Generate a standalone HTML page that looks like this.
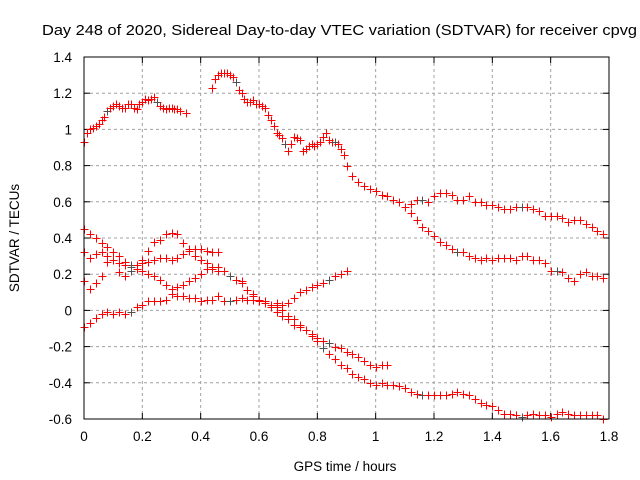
<!DOCTYPE html>
<html><head><meta charset="utf-8">
<style>
body{margin:0;background:#fff;}
svg{display:block;font-family:"Liberation Sans",sans-serif;}
</style></head>
<body>
<svg id="chart" width="640" height="480">
<text x="339.5" y="35" font-size="15" text-anchor="middle" textLength="595" lengthAdjust="spacingAndGlyphs">Day 248 of 2020, Sidereal Day-to-day VTEC variation (SDTVAR) for receiver cpvg</text>
<text x="345" y="471" font-size="13.5" text-anchor="middle">GPS time / hours</text>
<text transform="translate(19,238) rotate(-90)" font-size="13.5" text-anchor="middle">SDTVAR / TECUs</text>
<g id="grid"></g>
<g id="ticks"></g>
<g id="marks"></g>
<rect x="84" y="57" width="525" height="362" fill="none" stroke="#000" stroke-width="1"/>
</svg>
<script>
const xTicks=[0,0.2,0.4,0.6,0.8,1,1.2,1.4,1.6,1.8];
const xTickLabels=["0","0.2","0.4","0.6","0.8","1","1.2","1.4","1.6","1.8"];
const yTicks=[-0.6,-0.4,-0.2,0,0.2,0.4,0.6,0.8,1,1.2,1.4];
const yTickLabels=["-0.6","-0.4","-0.2","0","0.2","0.4","0.6","0.8","1","1.2","1.4"];
const s1x=[0,0.01,0.02,0.03,0.04,0.05,0.06,0.07,0.08,0.09,0.1,0.11,0.12,0.13,0.14,0.15,0.16,0.17,0.18,0.19,0.2,0.21,0.22,0.23,0.24,0.25,0.26,0.27,0.28,0.29,0.3,0.31,0.32,0.33,0.35];
const s1y=[0.93,0.98,1.0,1.01,1.02,1.03,1.05,1.07,1.1,1.12,1.13,1.14,1.13,1.12,1.12,1.14,1.14,1.12,1.11,1.14,1.15,1.17,1.16,1.17,1.18,1.15,1.13,1.12,1.11,1.12,1.12,1.11,1.11,1.10,1.09];
const s2x=[0.44,0.45,0.46,0.47,0.48,0.49,0.5,0.51,0.52,0.53,0.54,0.55,0.56,0.57,0.58,0.59,0.6,0.61,0.62,0.63,0.64,0.65,0.66,0.67,0.68,0.69,0.7,0.71,0.72,0.73,0.74,0.75,0.76,0.77,0.78,0.79,0.8,0.81,0.82,0.83,0.84,0.85,0.86,0.87,0.88,0.89,0.9,0.92,0.94,0.96,0.98,1.0,1.02,1.04,1.06,1.08,1.1,1.12,1.14,1.16,1.18,1.2,1.22,1.24,1.26,1.28,1.3,1.32,1.34,1.36,1.38,1.4,1.42,1.44,1.46,1.48,1.5,1.52,1.54,1.56,1.58,1.6,1.62,1.64,1.66,1.68,1.7,1.72,1.74,1.76,1.78];
const s2y=[1.23,1.28,1.30,1.31,1.31,1.31,1.30,1.29,1.26,1.22,1.20,1.17,1.15,1.15,1.16,1.14,1.14,1.13,1.12,1.08,1.05,1.02,0.98,0.97,0.95,0.92,0.88,0.92,0.96,0.95,0.94,0.88,0.89,0.91,0.92,0.91,0.92,0.93,0.96,0.98,0.94,0.93,0.93,0.92,0.89,0.86,0.80,0.74,0.71,0.69,0.67,0.66,0.64,0.63,0.61,0.60,0.57,0.59,0.61,0.61,0.60,0.63,0.65,0.65,0.64,0.61,0.61,0.63,0.60,0.60,0.58,0.58,0.57,0.56,0.56,0.57,0.57,0.57,0.56,0.55,0.52,0.52,0.52,0.51,0.49,0.50,0.50,0.48,0.46,0.44,0.42];
const s3x=[1.12,1.14,1.16,1.18,1.2,1.22,1.24,1.26,1.28,1.3,1.32,1.34,1.36,1.38,1.4,1.42,1.44,1.46,1.48,1.5,1.52,1.54,1.56,1.58,1.6,1.62,1.64,1.66,1.68,1.7,1.72,1.74,1.76,1.78];
const s3y=[0.54,0.50,0.46,0.44,0.41,0.38,0.36,0.34,0.32,0.32,0.30,0.29,0.28,0.29,0.28,0.29,0.29,0.29,0.28,0.30,0.30,0.28,0.28,0.26,0.22,0.22,0.21,0.18,0.16,0.20,0.21,0.19,0.19,0.18];
const s4x=[0,0.02,0.04,0.06,0.08,0.1,0.12,0.14,0.16,0.18,0.2,0.22,0.24,0.26,0.28,0.3,0.32,0.34,0.36,0.38,0.4,0.42,0.44,0.46,0.48,0.5,0.52,0.54,0.56,0.58,0.6,0.62,0.64,0.66,0.68,0.7,0.72,0.74,0.76,0.78,0.8,0.82,0.84,0.86,0.88,0.9,0.92,0.94,0.96,0.98,1.0,1.02,1.04];
const s4y=[0.45,0.42,0.40,0.37,0.35,0.32,0.30,0.27,0.25,0.23,0.22,0.20,0.19,0.17,0.14,0.12,0.13,0.14,0.16,0.18,0.20,0.23,0.24,0.24,0.22,0.19,0.17,0.16,0.11,0.09,0.06,0.04,0.02,-0.01,-0.03,-0.05,-0.08,-0.09,-0.11,-0.13,-0.15,-0.17,-0.18,-0.20,-0.21,-0.23,-0.24,-0.26,-0.28,-0.30,-0.31,-0.30,-0.30];
const s5x=[0,0.02,0.04,0.06,0.08,0.1,0.12,0.14,0.16,0.18,0.2,0.22,0.24,0.26,0.28,0.3,0.32,0.34,0.36,0.38,0.4,0.42,0.44,0.46,0.48,0.5,0.52,0.54,0.56,0.58,0.6,0.62,0.64,0.66];
const s5y=[0.32,0.29,0.31,0.32,0.30,0.28,0.26,0.25,0.24,0.25,0.26,0.27,0.28,0.29,0.29,0.28,0.29,0.31,0.34,0.34,0.34,0.33,0.32,0.32,0.22,0.19,0.17,0.15,0.11,0.08,0.06,0.05,0.03,0.02];
const s6x=[0,0.02,0.04,0.06,0.08,0.1,0.12,0.14,0.16,0.18,0.2,0.22,0.24,0.26,0.28,0.3,0.32,0.34,0.36,0.38,0.4,0.42,0.44,0.46];
const s6y=[0.16,0.12,0.15,0.19,0.27,0.28,0.21,0.19,0.22,0.25,0.28,0.33,0.38,0.39,0.42,0.43,0.42,0.37,0.33,0.30,0.28,0.26,0.23,0.22];
const s7x=[0,0.02,0.04,0.06,0.08,0.1,0.12,0.14,0.16,0.18,0.2,0.22,0.24,0.26,0.28,0.3,0.32,0.34,0.36,0.38,0.4,0.42,0.44,0.46,0.48,0.5,0.52,0.54,0.56,0.58,0.6,0.62,0.64,0.66,0.68,0.7,0.72,0.74,0.76,0.78,0.8,0.82,0.84,0.86,0.88,0.9];
const s7y=[-0.09,-0.07,-0.04,-0.02,-0.01,-0.02,-0.01,-0.02,-0.01,0.02,0.03,0.05,0.05,0.05,0.06,0.09,0.08,0.08,0.07,0.07,0.05,0.06,0.06,0.08,0.05,0.05,0.06,0.07,0.06,0.06,0.05,0.04,0.03,0.04,0.03,0.04,0.07,0.10,0.11,0.13,0.14,0.15,0.17,0.19,0.20,0.22];
const s8x=[0.66,0.68,0.7,0.72,0.74,0.76,0.78,0.8,0.82,0.84,0.86,0.88,0.9,0.92,0.94,0.96,0.98,1.0,1.02,1.04,1.06,1.08,1.1,1.12,1.14,1.16,1.18,1.2,1.22,1.24,1.26,1.28,1.3,1.32,1.34,1.36,1.38,1.4,1.42,1.44,1.46,1.48,1.5,1.52,1.54,1.56,1.58,1.6,1.62,1.64,1.66,1.68,1.7,1.72,1.74,1.76,1.78];
const s8y=[0.03,0.0,-0.03,-0.05,-0.08,-0.11,-0.14,-0.17,-0.21,-0.24,-0.27,-0.30,-0.32,-0.35,-0.37,-0.38,-0.40,-0.41,-0.40,-0.41,-0.41,-0.42,-0.43,-0.45,-0.46,-0.47,-0.47,-0.47,-0.47,-0.47,-0.46,-0.45,-0.46,-0.47,-0.49,-0.51,-0.52,-0.53,-0.55,-0.57,-0.57,-0.58,-0.59,-0.58,-0.57,-0.58,-0.58,-0.59,-0.57,-0.56,-0.57,-0.58,-0.58,-0.58,-0.58,-0.58,-0.60];
const seriesX=[s1x,s2x,s3x,s4x,s5x,s6x,s7x,s8x];
const seriesY=[s1y,s2y,s3y,s4y,s5y,s6y,s7y,s8y];

const L=84,R=609,T=57,B=419;
const sx=v=>L+(v-0)/(1.8-0)*(R-L);
const sy=v=>B-(v+0.6)/(1.4+0.6)*(B-T);
const NS="http://www.w3.org/2000/svg";
const grid=document.getElementById('grid'),ticks=document.getElementById('ticks'),marks=document.getElementById('marks');
function mk(tag,attrs,parent){const e=document.createElementNS(NS,tag);for(const k in attrs)e.setAttribute(k,attrs[k]);parent.appendChild(e);return e;}
xTicks.forEach((v,i)=>{
  const x=sx(v);
  if(i>0&&i<xTicks.length-1){const g=mk('line',{x1:x,x2:x,y1:T,y2:B,stroke:'#a0a0a0','stroke-dasharray':'3,3'},grid);
  
  }
  mk('line',{x1:x,x2:x,y1:B,y2:B-6,stroke:'#000'},ticks);
  mk('line',{x1:x,x2:x,y1:T,y2:T+6,stroke:'#000'},ticks);
  const t=mk('text',{x:x,y:441,'font-size':'13.5','text-anchor':'middle'},ticks);
  t.textContent=xTickLabels[i];
  
  
});
yTicks.forEach((v,i)=>{
  const y=sy(v);
  if(i>0&&i<yTicks.length-1){const g=mk('line',{x1:L,x2:R,y1:y,y2:y,stroke:'#a0a0a0','stroke-dasharray':'3,3'},grid);
  
  }
  mk('line',{x1:L,x2:L+6,y1:y,y2:y,stroke:'#000'},ticks);
  mk('line',{x1:R,x2:R-6,y1:y,y2:y,stroke:'#000'},ticks);
  const t=mk('text',{x:72,y:y+5,'font-size':'13.5','text-anchor':'end'},ticks);
  t.textContent=yTickLabels[i];
  
  
});
seriesX.forEach((xs,si)=>{
  xs.forEach((xv,j)=>{
    const x=Math.round(sx(xv))+0.5,y=Math.round(sy(seriesY[si][j]))+0.5;
    const p=mk('path',{d:`M${x-4},${y}H${x+4}M${x},${y-4}V${y+4}`,stroke:(j%17==8)?'#505050':'#ff0000','stroke-width':'1',fill:'none'},marks);
    
    
  });
});
</script>
</body></html>
